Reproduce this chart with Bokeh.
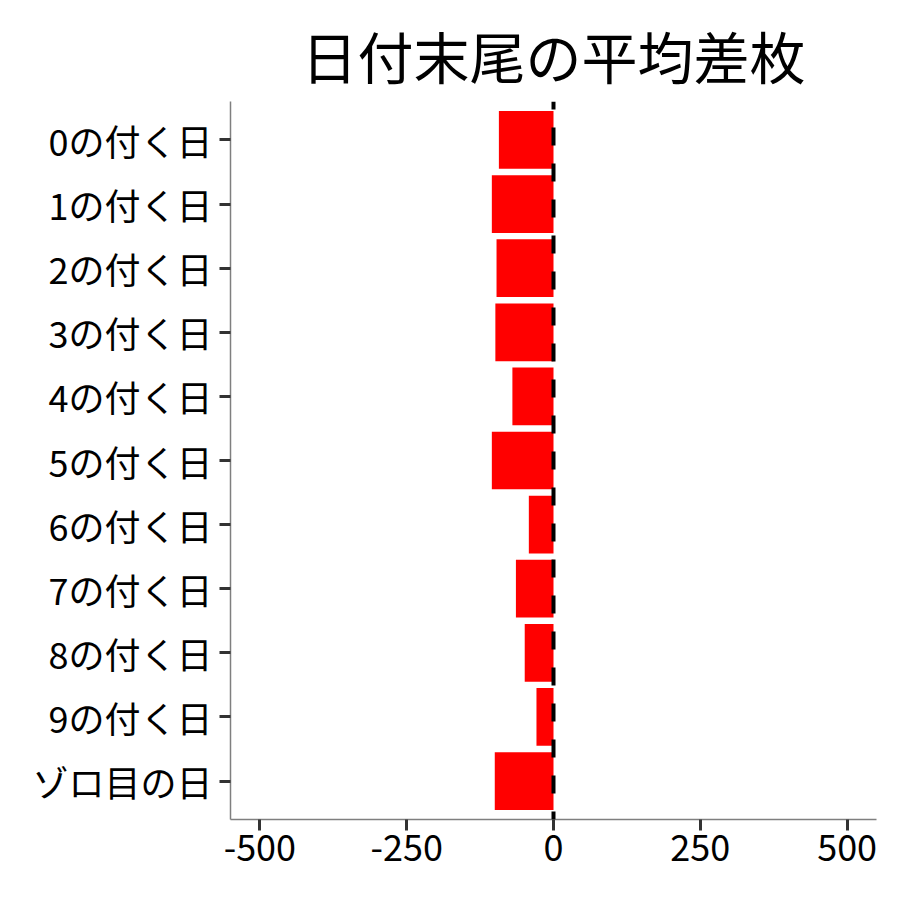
from bokeh.plotting import figure
from bokeh.models import Range1d, Span, FixedTicker, Title
from bokeh.embed import file_html
from bokeh.resources import INLINE

categories = ["0の付く日", "1の付く日", "2の付く日", "3の付く日", "4の付く日",
              "5の付く日", "6の付く日", "7の付く日", "8の付く日", "9の付く日", "ゾロ目の日"]
values = [-93, -105, -97, -99, -70, -105, -42, -64, -49, -29, -100]
x_ticks = [-500, -250, 0, 250, 500]
x_tick_labels = ["-500", "-250", "0", "250", "500"]
title_text = "日付末尾の平均差枚"

FONT = "Noto Sans CJK JP"
n = len(categories)
pos = list(range(n))

p = figure(width=884, height=884, output_backend="svg", toolbar_location=None,
           x_range=Range1d(-550, 550), y_range=Range1d(n - 1 + 0.6, -0.6),
           min_border_left=230, min_border_right=8, min_border_top=101, min_border_bottom=65)
p.title = Title(text=title_text, align="center", text_font=FONT, text_font_size="56px",
                text_font_style="normal", text_color="black", standoff=14)

p.hbar(y=pos, right=values, left=0, height=0.9, color="#FF0000", line_color=None)
p.add_layout(Span(location=0, dimension="height", line_color="black", line_width=4,
                  line_dash="18 18", line_dash_offset=10))

p.xgrid.visible = False
p.ygrid.visible = False
p.outline_line_color = None
p.background_fill_color = "white"

for ax in (p.xaxis[0], p.yaxis[0]):
    ax.axis_line_color = "#7f7f7f"
    ax.axis_line_width = 1.5
    ax.major_tick_line_color = "#333333"
    ax.major_tick_line_width = 3
    ax.major_tick_out = 11
    ax.major_tick_in = 0
    ax.minor_tick_line_color = None
    ax.major_label_text_font = FONT
    ax.major_label_text_font_size = "36px"
    ax.major_label_text_color = "black"

p.xaxis[0].ticker = FixedTicker(ticks=x_ticks)
p.xaxis[0].major_label_overrides = {t: s for t, s in zip(x_ticks, x_tick_labels)}
p.xaxis[0].major_label_standoff = 4
p.yaxis[0].ticker = FixedTicker(ticks=pos)
p.yaxis[0].major_label_overrides = {i: c for i, c in enumerate(categories)}
p.yaxis[0].major_label_standoff = 7

open("out.html", "w").write(file_html(p, INLINE))
